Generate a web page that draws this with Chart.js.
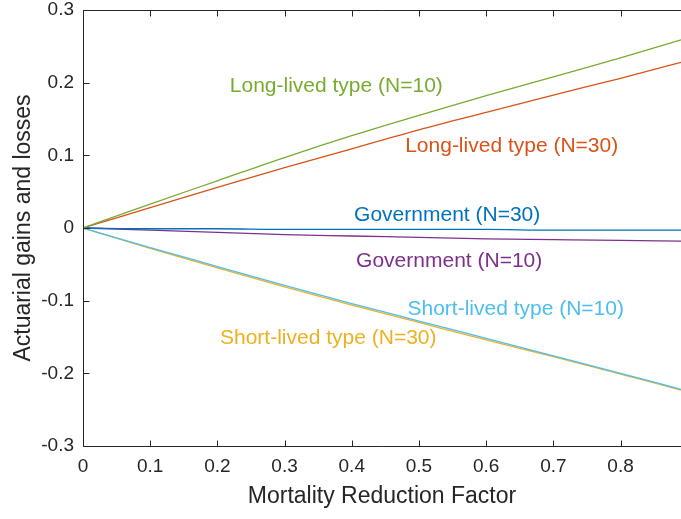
<!DOCTYPE html>
<html>
<head>
<meta charset="utf-8">
<script src="https://cdn.jsdelivr.net/npm/chart.js@4/dist/chart.umd.min.js"></script>
<style>
html,body{margin:0;padding:0;background:#fff;overflow:hidden;}
#wrap{width:681px;height:519px;position:relative;}
</style>
</head>
<body>
<div id="wrap"><canvas id="c" width="681" height="519"></canvas></div>
<script>
const xValues = [0, 0.1, 0.2, 0.3, 0.4, 0.5, 0.6, 0.7, 0.8, 0.89];
const longN10  = [0, 0.033, 0.065, 0.097, 0.127, 0.155, 0.182, 0.208, 0.234, 0.259];
const longN30  = [0, 0.028, 0.056, 0.083, 0.109, 0.135, 0.159, 0.183, 0.206, 0.228];
const govN30   = [0, -0.001, -0.001, -0.002, -0.002, -0.002, -0.002, -0.003, -0.003, -0.003];
const govN10   = [0, -0.003, -0.006, -0.009, -0.011, -0.013, -0.015, -0.016, -0.017, -0.018];
const shortN10 = [0, -0.027, -0.053, -0.079, -0.104, -0.128, -0.152, -0.176, -0.200, -0.222];
const shortN30 = [0, -0.028, -0.055, -0.081, -0.106, -0.130, -0.154, -0.177, -0.201, -0.223];
const xTicks = [0, 0.1, 0.2, 0.3, 0.4, 0.5, 0.6, 0.7, 0.8];
const yTicks = [-0.3, -0.2, -0.1, 0, 0.1, 0.2, 0.3];
const seriesNames = ['Long-lived type (N=10)', 'Long-lived type (N=30)', 'Government (N=30)', 'Government (N=10)', 'Short-lived type (N=10)', 'Short-lived type (N=30)'];

const colors = ['#77AC30', '#D95319', '#0072BD', '#7E2F8E', '#4DBEEE', '#EDB120'];
const allSeries = [longN10, longN30, govN30, govN10, shortN10, shortN30];
// label anchor positions (data coords)
const labelPos = [[0.377, 0.195], [0.638, 0.112], [0.542, 0.017], [0.545, -0.046], [0.644, -0.112], [0.365, -0.151]];

const datasets = allSeries.map((s, i) => ({
  label: seriesNames[i],
  data: s.map((v, j) => ({x: xValues[j], y: v})),
  borderColor: colors[i],
  borderWidth: 1.3,
  pointRadius: 0,
  fill: false,
  tension: 0,
  cubicInterpolationMode: 'monotone'
}));
const fmt = v => (Math.abs(v) < 1e-9 ? '0' : v.toFixed(1));
const axisColor = '#262626';
const FONT = 'Liberation Sans, Arial, Helvetica, sans-serif';

const boxPlugin = {
  id: 'box',
  afterDatasetsDraw(chart) {
    const ctx = chart.ctx, a = chart.chartArea;
    const xs = chart.scales.x, ys = chart.scales.y;
    ctx.save();
    ctx.font = '21px ' + FONT;
    ctx.textAlign = 'center';
    ctx.textBaseline = 'middle';
    seriesNames.forEach((n, i) => {
      ctx.fillStyle = colors[i];
      ctx.fillText(n, xs.getPixelForValue(labelPos[i][0]), ys.getPixelForValue(labelPos[i][1]));
    });
    ctx.strokeStyle = axisColor;
    ctx.lineWidth = 1;
    ctx.beginPath();
    const L = Math.round(a.left) + 0.5, T = Math.round(a.top) + 0.5, B = Math.round(a.bottom) + 0.5, R = a.right + 5;
    ctx.moveTo(R, T); ctx.lineTo(L, T); ctx.lineTo(L, B); ctx.lineTo(R, B);
    const tl = 6;
    xTicks.forEach(v => {
      const px = Math.round(xs.getPixelForValue(v)) + 0.5;
      ctx.moveTo(px, B); ctx.lineTo(px, B - tl);
      ctx.moveTo(px, T); ctx.lineTo(px, T + tl);
    });
    yTicks.forEach(v => {
      const py = Math.round(ys.getPixelForValue(v)) + 0.5;
      ctx.moveTo(L, py); ctx.lineTo(L + tl, py);
    });
    ctx.stroke();
    ctx.restore();
  }
};

new Chart(document.getElementById('c'), {
  type: 'line',
  data: {datasets},
  options: {
    responsive: false,
    animation: false,
    layout: {padding: {top: 10, right: 0, left: 0, bottom: 0}},
    plugins: {legend: {display: false}, tooltip: {enabled: false}},
    scales: {
      x: {
        type: 'linear', min: 0, max: 0.89,
        afterBuildTicks: s => { s.ticks = xTicks.map(v => ({value: v})); },
        afterFit: s => { s.height = 73; s.paddingLeft = 0; s.paddingRight = 0; },
        grid: {display: false, drawTicks: false},
        border: {display: false},
        ticks: {color: axisColor, font: {size: 19, family: FONT}, padding: 9, maxRotation: 0, autoSkip: false, callback: v => fmt(v)},
        title: {display: true, text: 'Mortality Reduction Factor', color: axisColor, font: {size: 23, family: FONT}, padding: {top: 0, bottom: 9}}
      },
      y: {
        type: 'linear', min: -0.3, max: 0.3,
        afterBuildTicks: s => { s.ticks = yTicks.map(v => ({value: v})); },
        afterFit: s => { s.width = 83; s.paddingTop = 0; s.paddingBottom = 0; },
        grid: {display: false, drawTicks: false},
        border: {display: false},
        ticks: {color: axisColor, font: {size: 19, family: FONT}, padding: 9, autoSkip: false, callback: v => fmt(v)},
        title: {display: true, text: 'Actuarial gains and losses', color: axisColor, font: {size: 23, family: FONT}, padding: {top: 10, bottom: 0}}
      }
    }
  },
  plugins: [boxPlugin]
});
</script>
</body>
</html>
